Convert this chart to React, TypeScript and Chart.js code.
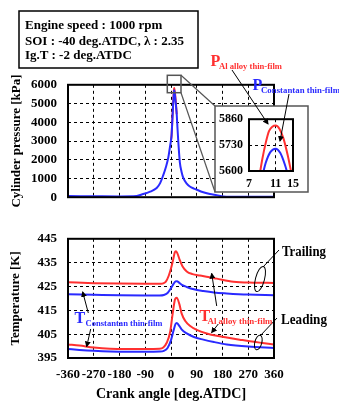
import React, { useEffect, useRef } from "react";
import { Chart, registerables } from "chart.js";
Chart.register(...registerables);

const SERIF = "'Liberation Serif', 'Times New Roman', serif";

// ---------- data ----------
const crankTicks = [-360, -270, -180, -90, 0, 90, 180, 270, 360];
const pressureTicks = [0, 1000, 2000, 3000, 4000, 5000, 6000];
const tempTicks = [395, 405, 415, 425, 435, 445];

const pAngleCon = [-360, -270, -180, -120, -97, -75, -50, -38, -27, -18, -9.5, -4, 0, 2, 5, 8, 10, 11, 12.5, 14, 17, 20, 23, 26, 31, 37, 43, 55, 66, 80, 90, 110, 136, 160, 183, 210, 270, 360];
const pCon = [60, 50, 40, 60, 170, 280, 490, 750, 1180, 1600, 2110, 2650, 3040, 3300, 4200, 5100, 5550, 5712, 5600, 5420, 4950, 4430, 3600, 2850, 1850, 1350, 1030, 720, 570, 460, 400, 280, 175, 110, 40, 25, 25, 25];
const pAngleAl = [0, 2, 5, 8, 10, 11, 12.5, 14, 17, 20];
const pAl = [3040, 3300, 4250, 5180, 5680, 5825, 5720, 5550, 5050, 4430];

const insetAngleAl = [8.4, 9.0, 9.5, 10.0, 10.5, 11.0, 11.6, 12.2, 12.8, 13.3, 13.8];
const insetPAl = [5540, 5660, 5740, 5800, 5822, 5828, 5810, 5760, 5680, 5600, 5520];
const insetAngleCon = [8.9, 9.5, 10.2, 11.0, 11.7, 12.4, 13.0];
const insetPCon = [5560, 5640, 5695, 5712, 5690, 5630, 5560];
const insetXTicks = [7, 11, 13.6];
const insetXLabels = ["7", "11", "15"];
const insetYTicks = [5600, 5730, 5860];

const tAngleTrailAl = [-360, -270, -180, -90, -40, -30, -18, -8, 0, 8, 13, 17, 22, 30, 40, 55, 75, 101, 130, 160, 218, 288, 360];
const tTrailAl = [426.8, 426.4, 426.2, 426.1, 426.1, 426.2, 427.0, 429.5, 432.5, 436.5, 439.2, 439.8, 439.0, 436.3, 433.5, 431.3, 430.2, 429.6, 429.0, 428.3, 427.0, 426.6, 426.5];
const tAngleTrailCon = [-360, -270, -180, -90, -40, -25, -12, 0, 10, 16, 21, 28, 38, 55, 80, 113, 150, 195, 270, 360];
const tTrailCon = [421.7, 421.5, 421.3, 421.2, 421.2, 421.4, 422.3, 424.3, 426.3, 427.1, 427.2, 426.6, 425.7, 424.8, 423.8, 423.1, 422.5, 422.1, 421.6, 421.3];
const tAngleLeadAl = [-360, -320, -270, -213, -150, -90, -40, -27, -15, -3, 6, 14, 20, 29, 37, 50, 66, 90, 125, 160, 195, 240, 276, 320, 360];
const tLeadAl = [400.7, 400.2, 399.4, 398.9, 398.8, 398.8, 398.9, 399.4, 401.4, 405.9, 413.7, 419.6, 420.3, 417.7, 413.7, 410.5, 408.5, 406.8, 405.3, 404.3, 403.6, 402.7, 402.0, 401.3, 400.7];
const tAngleLeadCon = [-360, -320, -270, -213, -150, -90, -40, -25, -12, 0, 10, 16, 20, 27, 37, 55, 80, 113, 150, 195, 270, 360];
const tLeadCon = [398.8, 398.4, 398.0, 397.7, 397.6, 397.6, 397.7, 398.0, 399.2, 402.5, 407.0, 409.3, 409.7, 408.8, 407.0, 405.3, 403.8, 402.7, 401.7, 400.7, 399.8, 399.2];

const RED = "#ff3030";
const BLUE = "#2a2aff";

// ---------- helpers ----------
const pts = (xs: number[], ys: number[]) => xs.map((x, i) => ({ x, y: ys[i] }));

const line = (xs: number[], ys: number[], color: string) => ({
  data: pts(xs, ys),
  borderColor: color,
  backgroundColor: color,
  borderWidth: 2,
  pointRadius: 0,
  cubicInterpolationMode: "monotone" as const,
  fill: false,
});

const framePlugin = {
  id: "frame",
  afterDatasetsDraw(chart: any) {
    const { ctx, chartArea } = chart;
    const { left, top, right, bottom } = chartArea;
    ctx.save();
    ctx.setLineDash([]);
    ctx.strokeStyle = "#000";
    ctx.lineWidth = 2;
    ctx.strokeRect(left, top, right - left, bottom - top);
    ctx.restore();
  },
};

const tickFont = (size: number) => ({ family: SERIF, weight: "bold" as const, size });
const plain = (v: any) => String(v);

const gridOpts = { color: "#000", lineWidth: 1, drawTicks: false };
const borderOpts = { display: false, dash: [3, 3] };

const setTicks = (vals: number[]) => (scale: any) => {
  scale.ticks = vals.map((v) => ({ value: v }));
};

function pressureConfig(): any {
  return {
    type: "line",
    data: {
      datasets: [line(pAngleCon, pCon, BLUE), line(pAngleAl, pAl, RED)],
    },
    plugins: [framePlugin],
    options: {
      responsive: false,
      animation: false,
      layout: { padding: { top: 10, right: 65, left: 0, bottom: 0 } },
      plugins: { legend: { display: false }, tooltip: { enabled: false } },
      scales: {
        x: {
          type: "linear",
          min: -360,
          max: 360,
          afterBuildTicks: setTicks(crankTicks),
          ticks: { display: false },
          grid: gridOpts,
          border: borderOpts,
          afterFit: (s: any) => { s.height = 10; },
        },
        y: {
          min: 0,
          max: 6000,
          afterBuildTicks: setTicks(pressureTicks),
          ticks: { font: tickFont(13), color: "#000", padding: 11, callback: plain },
          grid: gridOpts,
          border: borderOpts,
          title: {
            display: true,
            text: "Cylinder pressure [kPa]",
            color: "#000",
            font: tickFont(13),
            padding: { top: 9, bottom: 0 },
          },
          afterFit: (s: any) => { s.width = 68; },
        },
      },
    },
  };
}

function tempConfig(): any {
  return {
    type: "line",
    data: {
      datasets: [
        line(tAngleTrailAl, tTrailAl, RED),
        line(tAngleTrailCon, tTrailCon, BLUE),
        line(tAngleLeadAl, tLeadAl, RED),
        line(tAngleLeadCon, tLeadCon, BLUE),
      ],
    },
    plugins: [framePlugin],
    options: {
      responsive: false,
      animation: false,
      layout: { padding: { top: 10, right: 65, left: 0, bottom: 0 } },
      plugins: { legend: { display: false }, tooltip: { enabled: false } },
      scales: {
        x: {
          type: "linear",
          min: -360,
          max: 360,
          afterBuildTicks: setTicks(crankTicks),
          ticks: { font: tickFont(13), color: "#000", padding: 9, maxRotation: 0, autoSkip: false, callback: plain },
          grid: gridOpts,
          border: borderOpts,
          title: {
            display: true,
            text: "Crank angle [deg.ATDC]",
            color: "#000",
            font: tickFont(14),
            padding: { top: 0, bottom: 1 },
          },
          afterFit: (s: any) => { s.height = 46; },
        },
        y: {
          min: 395,
          max: 445,
          afterBuildTicks: setTicks(tempTicks),
          ticks: { font: tickFont(13), color: "#000", padding: 11, callback: plain },
          grid: gridOpts,
          border: borderOpts,
          title: {
            display: true,
            text: "Temperature [K]",
            color: "#000",
            font: tickFont(13),
            padding: { top: 8, bottom: 0 },
          },
          afterFit: (s: any) => { s.width = 68; },
        },
      },
    },
  };
}

function insetConfig(): any {
  return {
    type: "line",
    data: {
      datasets: [line(insetAngleAl, insetPAl, RED), line(insetAngleCon, insetPCon, BLUE)],
    },
    plugins: [framePlugin],
    options: {
      responsive: false,
      animation: false,
      layout: { padding: { top: 7, right: 15, left: 0, bottom: 0 } },
      plugins: { legend: { display: false }, tooltip: { enabled: false } },
      scales: {
        x: {
          type: "linear",
          min: 7,
          max: 13.6,
          afterBuildTicks: setTicks(insetXTicks),
          ticks: {
            font: tickFont(12),
            color: "#000",
            padding: 6,
            maxRotation: 0,
            autoSkip: false,
            callback: (_v: any, i: number) => insetXLabels[i],
          },
          grid: gridOpts,
          border: borderOpts,
          afterFit: (s: any) => { s.height = 21; },
        },
        y: {
          min: 5600,
          max: 5860,
          afterBuildTicks: setTicks(insetYTicks),
          ticks: { font: tickFont(12), color: "#000", padding: 6, callback: plain },
          grid: gridOpts,
          border: borderOpts,
          afterFit: (s: any) => { s.width = 34; },
        },
      },
    },
  };
}

export default function App() {
  const pRef = useRef<HTMLCanvasElement>(null);
  const tRef = useRef<HTMLCanvasElement>(null);
  const iRef = useRef<HTMLCanvasElement>(null);

  useEffect(() => {
    document.body.style.margin = "0";
    const charts = [
      new Chart(pRef.current!, pressureConfig()),
      new Chart(tRef.current!, tempConfig()),
      new Chart(iRef.current!, insetConfig()),
    ];
    return () => charts.forEach((c) => c.destroy());
  }, []);

  const txt = { fontFamily: SERIF, fontWeight: "bold" as const };

  return (
    <div style={{ position: "relative", width: 339, height: 404, overflow: "hidden", background: "#fff" }}>
      <canvas ref={pRef} width={339} height={150} style={{ position: "absolute", left: 0, top: 66, width: 339, height: 150 }} />
      <canvas ref={tRef} width={339} height={184} style={{ position: "absolute", left: 0, top: 220, width: 339, height: 184 }} />
      <canvas ref={iRef} width={93} height={86} style={{ position: "absolute", left: 215, top: 106, width: 93, height: 86, background: "#fff" }} />
      <svg width={339} height={404} style={{ position: "absolute", left: 0, top: 0, pointerEvents: "none" }}>
        <defs>
          <marker id="ah" markerUnits="userSpaceOnUse" markerWidth="6" markerHeight="6" refX="5" refY="3" orient="auto">
            <path d="M0,0 L6,3 L0,6 z" fill="#000" />
          </marker>
        </defs>
        {/* info box */}
        <rect x={19} y={11} width={179} height={57} fill="#fff" stroke="#000" strokeWidth={1.5} />
        <text x={25} y={28.5} fontSize={13} {...txt} fill="#000">Engine speed : 1000 rpm</text>
        <text x={25} y={44.5} fontSize={13} {...txt} fill="#000">SOI : -40 deg.ATDC, λ : 2.35</text>
        <text x={25} y={59} fontSize={13} {...txt} fill="#000">Ig.T : -2 deg.ATDC</text>

        {/* zoom rectangle + connectors */}
        <rect x={167.3} y={75.3} width={13.7} height={17.4} fill="none" stroke="#555" strokeWidth={1.5} />
        <line x1={181} y1={75.3} x2={215} y2={106} stroke="#555" strokeWidth={1.2} />
        <line x1={181} y1={92.7} x2={215} y2={192} stroke="#555" strokeWidth={1.2} />
        <rect x={215} y={106} width={93} height={86} fill="none" stroke="#555" strokeWidth={1.5} />

        {/* pressure labels */}
        <text x={210.5} y={66} fontSize={16} {...txt} fill={RED}>P</text>
        <text x={219} y={68.5} fontSize={8.3} {...txt} fill={RED} textLength={63} lengthAdjust="spacingAndGlyphs">Al alloy thin-film</text>
        <text x={252.5} y={90} fontSize={16} {...txt} fill={BLUE}>P</text>
        <text x={261} y={92.5} fontSize={8.5} {...txt} fill={BLUE} textLength={79} lengthAdjust="spacingAndGlyphs">Constantan thin-film</text>
        <line x1={232} y1={70} x2={268} y2={124} stroke="#000" strokeWidth={1} markerEnd="url(#ah)" />
        <line x1={289} y1={94} x2={280} y2={141} stroke="#000" strokeWidth={1} markerEnd="url(#ah)" />

        {/* temperature labels */}
        <text x={282} y={256} fontSize={14} {...txt} fill="#000" textLength={44} lengthAdjust="spacingAndGlyphs">Trailing</text>
        <text x={281} y={324} fontSize={14} {...txt} fill="#000" textLength={46} lengthAdjust="spacingAndGlyphs">Leading</text>
        <ellipse cx={260} cy={279} rx={4.5} ry={13} transform="rotate(15 260 279)" fill="none" stroke="#000" strokeWidth={1} />
        <line x1={263} y1={267} x2={279} y2={250} stroke="#000" strokeWidth={1} />
        <ellipse cx={258.3} cy={342.5} rx={3.5} ry={7.5} transform="rotate(15 258.3 342.5)" fill="none" stroke="#000" strokeWidth={1} />
        <line x1={260} y1={336} x2={277} y2={318} stroke="#000" strokeWidth={1} />

        <text x={74.5} y={323} fontSize={16} {...txt} fill={BLUE}>T</text>
        <text x={85.5} y={325.5} fontSize={8.5} {...txt} fill={BLUE} textLength={77} lengthAdjust="spacingAndGlyphs">Constantan thin-film</text>
        <line x1={88.3} y1={313} x2={82.7} y2={292} stroke="#000" strokeWidth={1} markerEnd="url(#ah)" />
        <line x1={90.7} y1={329} x2={86.7} y2={346.5} stroke="#000" strokeWidth={1} markerEnd="url(#ah)" />

        <text x={199.5} y={321} fontSize={16} {...txt} fill={RED}>T</text>
        <text x={207.5} y={323.5} fontSize={8.3} {...txt} fill={RED} textLength={65} lengthAdjust="spacingAndGlyphs">Al alloy thin-film</text>
        <line x1={216.7} y1={306} x2={211.7} y2={273.5} stroke="#000" strokeWidth={1} markerEnd="url(#ah)" />
        <line x1={218.3} y1={324} x2={211.7} y2={332.5} stroke="#000" strokeWidth={1} markerEnd="url(#ah)" />
      </svg>
    </div>
  );
}
